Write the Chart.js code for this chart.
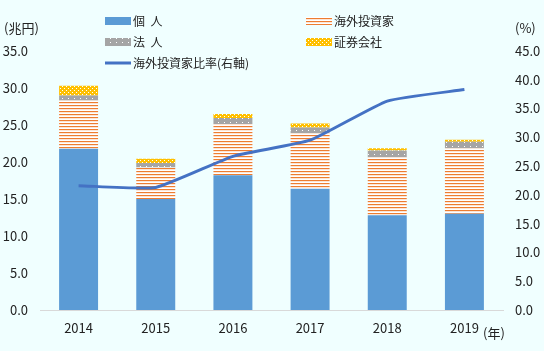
<!DOCTYPE html>
<html lang="ja">
<head>
    <meta charset="UTF-8">
    <title>投資部門別 売買状況</title>
    <style>
        html, body {
            margin: 0;
            padding: 0;
            background-color: #F0FFFF;
        }
        #chartBox {
            width: 544px;
            height: 351px;
        }
    </style>
    <script src="https://cdn.jsdelivr.net/npm/chart.js"></script>
</head>
<body>
    <div id="chartBox"><canvas id="tradeChart"></canvas></div>

    <script>
        const years = ['2014', '2015', '2016', '2017', '2018', '2019'];
        const individuals = [21.8, 15.0, 18.2, 16.4, 12.8, 13.0];
        const foreignInvestors = [6.5, 4.25, 6.95, 7.5, 7.85, 8.85];
        const corporations = [0.7, 0.6, 0.8, 0.75, 0.9, 0.9];
        const securitiesCos = [1.3, 0.6, 0.55, 0.55, 0.3, 0.25];
        const foreignShare = [21.6, 21.3, 26.7, 29.5, 36.3, 38.3];
        const leftTicks = [0, 5, 10, 15, 20, 25, 30, 35];
        const rightTicks = [0, 5, 10, 15, 20, 25, 30, 35, 40, 45];

        const FONT = '"Noto Sans CJK JP", "Noto Sans", sans-serif';
        const TEXT = '#222222';

        // small tile patterns like the Excel fills
        function makePattern(w, h, paint) {
            const c = document.createElement('canvas');
            c.width = w;
            c.height = h;
            paint(c.getContext('2d'));
            return c.getContext('2d').createPattern(c, 'repeat');
        }
        const stripeFill = makePattern(4, 3, g => {
            g.fillStyle = '#ffffff';
            g.fillRect(0, 0, 4, 3);
            g.fillStyle = '#ED7D31';
            g.fillRect(0, 0, 4, 1);
            g.fillStyle = 'rgba(237,125,49,0.2)';
            g.fillRect(0, 1, 4, 1);
        });
        const grayFill = makePattern(6, 4, g => {
            g.fillStyle = '#A5A5A5';
            g.fillRect(0, 0, 6, 4);
            g.fillStyle = '#ffffff';
            g.fillRect(2, 2, 1, 1);
        });
        const goldFill = makePattern(4, 4, g => {
            g.fillStyle = '#FFC000';
            g.fillRect(0, 0, 4, 4);
            g.fillStyle = '#ffffff';
            g.fillRect(0, 0, 1, 1);
            g.fillRect(2, 2, 1, 1);
        });

        // legend in two columns plus axis unit labels
        const extrasPlugin = {
            id: 'extras',
            afterDraw(chart) {
                const ctx = chart.ctx;
                const ds = chart.data.datasets;
                ctx.save();
                ctx.font = '12px ' + FONT;
                ctx.fillStyle = TEXT;
                ctx.textBaseline = 'middle';

                const slots = [
                    { i: 1, x: 105, y: 21 },
                    { i: 2, x: 306, y: 21 },
                    { i: 3, x: 105, y: 42 },
                    { i: 4, x: 306, y: 42 },
                    { i: 0, x: 105, y: 63 }
                ];
                slots.forEach(s => {
                    const d = ds[s.i];
                    if (d.type === 'line') {
                        ctx.fillStyle = d.borderColor;
                        ctx.fillRect(s.x, s.y - 1.5, 26, 3);
                    } else {
                        ctx.fillStyle = d.backgroundColor;
                        ctx.fillRect(s.x, s.y - 4, 26, 8);
                    }
                    ctx.fillStyle = TEXT;
                    ctx.textAlign = 'left';
                    ctx.fillText(d.label, s.x + 28, s.y);
                });

                ctx.font = '13px ' + FONT;
                ctx.textAlign = 'left';
                ctx.fillText('(兆円)', 4, 28);
                ctx.fillText('(%)', 515, 28);
                ctx.fillText('(年)', 483, 333);
                ctx.restore();
            }
        };

        const ctx = document.getElementById('tradeChart').getContext('2d');
        const tradeChart = new Chart(ctx, {
            data: {
                labels: years,
                datasets: [
                    {
                        type: 'line',
                        label: '海外投資家比率(右軸)',
                        data: foreignShare,
                        yAxisID: 'y2',
                        borderColor: '#4472C4',
                        borderWidth: 3,
                        pointRadius: 0,
                        tension: 0.15,
                        order: 0
                    },
                    {
                        type: 'bar',
                        label: '個  人',
                        data: individuals,
                        backgroundColor: '#5B9BD5',
                        stack: 's',
                        order: 1
                    },
                    {
                        type: 'bar',
                        label: '海外投資家',
                        data: foreignInvestors,
                        backgroundColor: stripeFill,
                        stack: 's',
                        order: 1
                    },
                    {
                        type: 'bar',
                        label: '法  人',
                        data: corporations,
                        backgroundColor: grayFill,
                        stack: 's',
                        order: 1
                    },
                    {
                        type: 'bar',
                        label: '証券会社',
                        data: securitiesCos,
                        backgroundColor: goldFill,
                        stack: 's',
                        order: 1
                    }
                ]
            },
            options: {
                responsive: true,
                maintainAspectRatio: false,
                animation: false,
                datasets: {
                    bar: {
                        barPercentage: 1,
                        categoryPercentage: 0.505
                    }
                },
                layout: {
                    padding: { top: 51, left: 0, right: 0, bottom: 0 }
                },
                plugins: {
                    legend: { display: false },
                    tooltip: { enabled: false }
                },
                scales: {
                    x: {
                        stacked: true,
                        grid: { display: false, drawTicks: false },
                        border: { display: true, color: '#D9D9D9', width: 1 },
                        ticks: {
                            color: TEXT,
                            font: { family: FONT, size: 13 },
                            padding: 10,
                            maxRotation: 0
                        },
                        afterFit: s => { s.height = 41; }
                    },
                    y: {
                        stacked: true,
                        position: 'left',
                        min: 0,
                        max: 35,
                        grid: { display: false, drawTicks: false },
                        border: { display: false },
                        afterBuildTicks: s => { s.ticks = leftTicks.map(v => ({ value: v })); },
                        ticks: {
                            color: TEXT,
                            font: { family: FONT, size: 13 },
                            padding: 12,
                            callback: v => v.toFixed(1)
                        },
                        afterFit: s => { s.width = 40; }
                    },
                    y2: {
                        position: 'right',
                        min: 0,
                        max: 45,
                        grid: { display: false, drawTicks: false },
                        border: { display: false },
                        afterBuildTicks: s => { s.ticks = rightTicks.map(v => ({ value: v })); },
                        ticks: {
                            color: TEXT,
                            font: { family: FONT, size: 13 },
                            padding: 12,
                            callback: v => v.toFixed(1)
                        },
                        afterFit: s => { s.width = 41; }
                    }
                }
            },
            plugins: [extrasPlugin]
        });
    </script>
</body>
</html>
